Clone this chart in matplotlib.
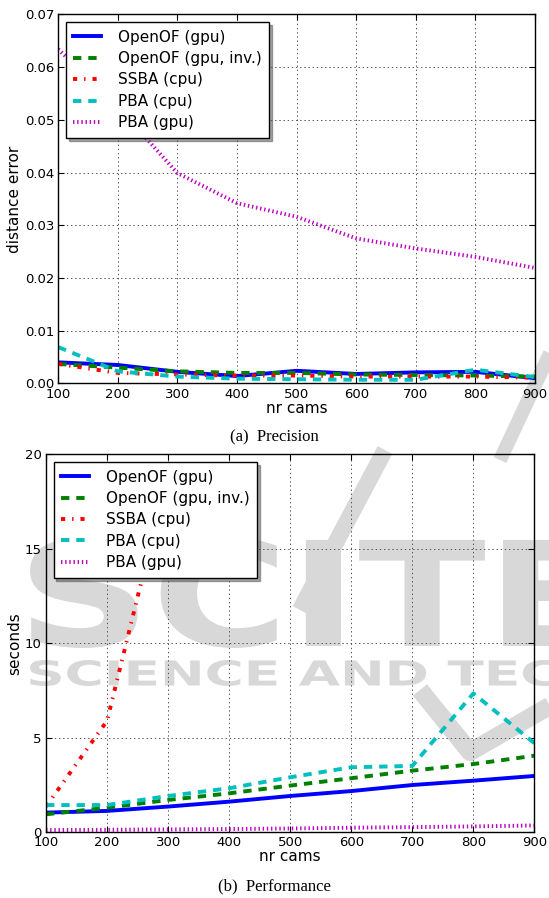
import numpy as np
import matplotlib
matplotlib.use('Agg')
import matplotlib.pyplot as plt
from matplotlib.textpath import TextPath
from matplotlib.font_manager import FontProperties
from matplotlib.patches import PathPatch
from matplotlib.transforms import Affine2D, IdentityTransform

plt.rcParams['lines.scale_dashes'] = False

# ---------------- data ----------------
cams = [100, 200, 300, 400, 500, 600, 700, 800, 900]

# (a) precision - distance error
err_openof = [0.0040, 0.0035, 0.0022, 0.0014, 0.0024, 0.0018, 0.0021, 0.0022, 0.0010]
err_openof_inv = [0.0037, 0.0030, 0.0023, 0.0020, 0.0020, 0.0017, 0.0016, 0.0015, 0.0013]
err_ssba = [0.0037, 0.0020, 0.0017, 0.0015, 0.0015, 0.0013, 0.0013, 0.0013, 0.0011]
err_pba_cpu = [0.0069, 0.0023, 0.0013, 0.0009, 0.0008, 0.0007, 0.0007, 0.0026, 0.0012]
err_pba_gpu = [0.0634, 0.0525, 0.0399, 0.0342, 0.0316, 0.0275, 0.0256, 0.0240, 0.0219]

# (b) performance - seconds (SSBA only measured up to 300 cams)
t_openof = [1.04, 1.13, 1.36, 1.62, 1.92, 2.18, 2.50, 2.73, 2.98]
t_openof_inv = [0.95, 1.30, 1.71, 2.06, 2.47, 2.86, 3.26, 3.61, 4.05]
t_ssba = [1.36, 5.9, 19.0, np.nan, np.nan, np.nan, np.nan, np.nan, np.nan]
t_pba_cpu = [1.44, 1.44, 1.92, 2.33, 2.91, 3.44, 3.51, 7.35, 4.71]
t_pba_gpu = [0.12, 0.13, 0.15, 0.17, 0.20, 0.24, 0.27, 0.31, 0.36]

labels = ['OpenOF (gpu)', 'OpenOF (gpu, inv.)', 'SSBA (cpu)', 'PBA (cpu)', 'PBA (gpu)']
colors = ['#0000ff', '#008000', '#ff0000', '#00bfbf', '#bf00bf']
styles = ['-', (0, (6, 5)), (0, (3, 5, 1, 5)), (0, (6, 5)), (0, (1, 2))]

W, H = 549, 898
fig = plt.figure(figsize=(W / 100, H / 100), dpi=100, facecolor='white')

# ---------------- background watermark ----------------
grey = '#d8d8d8'
bold = FontProperties(family='DejaVu Sans', weight='bold')


def mark(text, x0, y_top, y_bot, ref_text=None, x_end=None):
    tp = TextPath((0, 0), text, size=100, prop=bold)
    bb = tp.get_extents()
    rb = TextPath((0, 0), ref_text or text, size=100, prop=bold).get_extents()
    sx = (x_end - x0) / rb.width
    sy = (y_bot - y_top) / bb.height
    tr = Affine2D().translate(-bb.x0, -bb.y0).scale(sx, sy).translate(x0, H - y_bot)
    fig.add_artist(PathPatch(tr.transform_path(tp), facecolor=grey, edgecolor='none',
                             transform=IdentityTransform(), zorder=-5))


def band(points, width):
    xs = [p[0] for p in points]
    ys = [H - p[1] for p in points]
    fig.add_artist(plt.Line2D(xs, ys, color=grey, lw=width, solid_capstyle='butt',
                              transform=IdentityTransform(), zorder=-5))


mark('SCITE', 30, 538, 648, x_end=600)
mark('SCIENCE AND TECHNOLOGY', 30, 660, 686, ref_text='SCIENCE AND TEC', x_end=556)
band([(575, 300), (500, 460)], 10)
band([(385, 450), (300, 610)], 12)
band([(420, 690), (470, 752), (560, 700)], 13)

# ---------------- charts ----------------


def draw(ax, series, ylim, yticks, yfmt, ylabel):
    ax.patch.set_alpha(0)
    for vals, lab, c, ls in zip(series, labels, colors, styles):
        ax.plot(cams, vals, linestyle=ls, color=c, lw=2.8, label=lab)
    ax.set_xlim(100, 900)
    ax.set_ylim(*ylim)
    ax.set_xticks(cams)
    ax.set_yticks(yticks)
    ax.set_yticklabels([yfmt.format(v) for v in yticks])
    ax.grid(True, color='#555555', linestyle=(0, (1, 2)), linewidth=0.7)
    ax.tick_params(direction='in', top=True, right=True, length=4, width=0.8,
                   labelsize=9.5, pad=3)
    for s in ax.spines.values():
        s.set_linewidth(1.0)
    ax.set_xlabel('nr cams', fontsize=11, labelpad=0)
    ax.set_ylabel(ylabel, fontsize=11, labelpad=2)
    leg = ax.legend(loc='upper left', fontsize=11, shadow=True, fancybox=False,
                    framealpha=1, edgecolor='black', handlelength=1.8,
                    handletextpad=1.1, labelspacing=0.42, borderpad=0.5,
                    borderaxespad=0.5)
    leg.get_frame().set_linewidth(1.0)


ax1 = fig.add_axes([0.106, 0.573, 0.8685, 0.411])
draw(ax1, [err_openof, err_openof_inv, err_ssba, err_pba_cpu, err_pba_gpu],
     (0, 0.07), [0, 0.01, 0.02, 0.03, 0.04, 0.05, 0.06, 0.07], '{:.2f}', 'distance error')

ax2 = fig.add_axes([0.0838, 0.0732, 0.8897, 0.4209])
draw(ax2, [t_openof, t_openof_inv, t_ssba, t_pba_cpu, t_pba_gpu],
     (0, 20), [0, 5, 10, 15, 20], '{:d}', 'seconds')

fig.text(0.5, 1 - 437 / H, '(a)  Precision', ha='center', va='center',
         fontsize=12, family='Liberation Serif')
fig.text(0.5, 1 - 886 / H, '(b)  Performance', ha='center', va='center',
         fontsize=12, family='Liberation Serif')

fig.savefig('out.png', dpi=100, facecolor='white')
